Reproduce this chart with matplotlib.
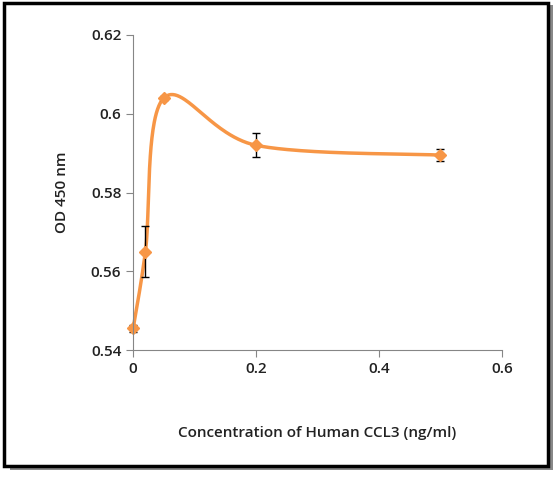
import numpy as np
import matplotlib.pyplot as plt
from matplotlib.patches import Rectangle

conc = [0, 0.02, 0.05, 0.2, 0.5]
od = [0.5455, 0.565, 0.604, 0.592, 0.5895]
err = [0.001, 0.0065, 0.0005, 0.003, 0.0015]


def excel_smooth(x, y, n=60):
    # Catmull-Rom style curve like Excel's smoothed line
    x = np.asarray(x, float)
    y = np.asarray(y, float)
    px = np.concatenate([[x[0]], x, [x[-1]]])
    py = np.concatenate([[y[0]], y, [y[-1]]])
    xs, ys = [], []
    t = np.linspace(0, 1, n)
    for i in range(1, len(px) - 2):
        p0 = np.array([px[i], py[i]])
        p3 = np.array([px[i + 1], py[i + 1]])
        p1 = p0 + (np.array([px[i + 1], py[i + 1]]) - np.array([px[i - 1], py[i - 1]])) / 6
        p2 = p3 - (np.array([px[i + 2], py[i + 2]]) - np.array([px[i], py[i]])) / 6
        b = ((1 - t) ** 3)[:, None] * p0 + (3 * (1 - t) ** 2 * t)[:, None] * p1 \
            + (3 * (1 - t) * t ** 2)[:, None] * p2 + (t ** 3)[:, None] * p3
        xs.extend(b[:, 0])
        ys.extend(b[:, 1])
    return xs, ys


plt.rcParams['font.family'] = ['Open Sans', 'DejaVu Sans']
fig = plt.figure(figsize=(5.57, 4.79), dpi=100)

# frame with shadow
fig.patches.append(Rectangle((0.018, 0.018), 0.975, 0.972, transform=fig.transFigure,
                             facecolor='#888888', edgecolor='none', zorder=-3))
fig.patches.append(Rectangle((0.008, 0.028), 0.975, 0.965, transform=fig.transFigure,
                             facecolor='white', edgecolor='black', linewidth=2.5, zorder=-2))

ax = fig.add_axes([0.239, 0.269, 0.662, 0.658])
color = '#F79646'
sx, sy = excel_smooth(conc, od)
ax.plot(sx, sy, color=color, linewidth=2.5, clip_on=False)
ax.errorbar(conc, od, yerr=err, fmt='D', color=color, markersize=6,
            ecolor='black', elinewidth=1, capsize=3, clip_on=False)

ax.set_xlim(0, 0.6)
ax.set_ylim(0.54, 0.62)
ax.set_xticks([0, 0.2, 0.4, 0.6])
ax.set_xticklabels(['0', '0.2', '0.4', '0.6'])
ax.set_yticks([0.54, 0.56, 0.58, 0.6, 0.62])
ax.set_yticklabels(['0.54', '0.56', '0.58', '0.6', '0.62'])
for s in ['top', 'right']:
    ax.spines[s].set_visible(False)
for s in ['left', 'bottom']:
    ax.spines[s].set_color('#868686')
ax.tick_params(colors='#868686', labelcolor='#222222', labelsize=11, direction='out', length=5)
for lab in ax.get_xticklabels() + ax.get_yticklabels():
    lab.set_fontweight('semibold')
ax.set_xlabel('Concentration of Human CCL3 (ng/ml)', fontsize=11, fontweight='semibold',
              labelpad=36, color='#222222')
ax.set_ylabel('OD 450 nm', fontsize=11, fontweight='semibold', labelpad=16, color='#222222')

fig.savefig('out.png', dpi=100)
